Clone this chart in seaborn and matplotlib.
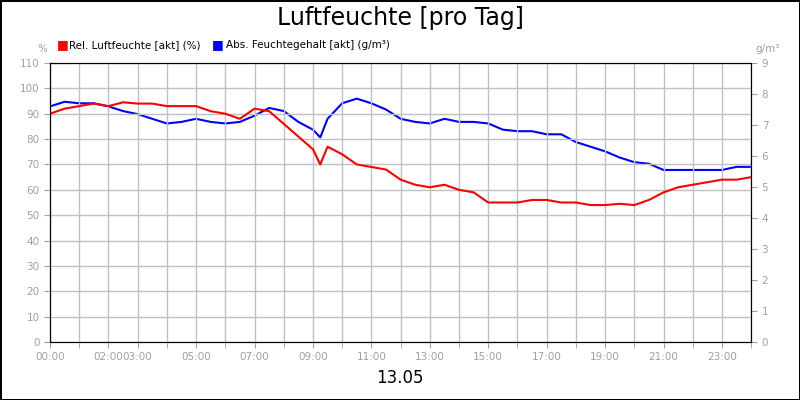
import matplotlib
matplotlib.use("Agg")
import matplotlib.pyplot as plt
import seaborn as sns
import pandas as pd

# hours of day for each reading
hours = [0, 0.5, 1, 1.5, 2, 2.5, 3, 3.5, 4, 4.5, 5, 5.5, 6, 6.5, 7, 7.5, 8, 8.5, 9, 9.25,
         9.5, 10, 10.5, 11, 11.5, 12, 12.5, 13, 13.5, 14, 14.5, 15, 15.5, 16, 16.5, 17, 17.5,
         18, 18.5, 19, 19.5, 20, 20.5, 21, 21.5, 22, 22.5, 23, 23.5, 24]
rel_hum = [90, 92, 93, 94, 93, 94.5, 94, 94, 93, 93, 93, 91, 90, 88, 92, 91, 86, 81, 76, 70,
           77, 74, 70, 69, 68, 64, 62, 61, 62, 60, 59, 55, 55, 55, 56, 56, 55,
           55, 54, 54, 54.5, 54, 56, 59, 61, 62, 63, 64, 64, 65]
abs_hum = [7.6, 7.75, 7.7, 7.7, 7.6, 7.45, 7.35, 7.2, 7.05, 7.1, 7.2, 7.1, 7.05, 7.1, 7.3, 7.55,
           7.45, 7.1, 6.85, 6.6, 7.2, 7.7, 7.85, 7.7, 7.5, 7.2, 7.1, 7.05, 7.2, 7.1, 7.1, 7.05,
           6.85, 6.8, 6.8, 6.7, 6.7, 6.45, 6.3, 6.15, 5.95, 5.8, 5.75, 5.55, 5.55, 5.55, 5.55,
           5.55, 5.65, 5.65]
tick_hours = [0, 2, 3, 5, 7, 9, 11, 13, 15, 17, 19, 21, 23]
tick_labels = ["00:00", "02:00", "03:00", "05:00", "07:00", "09:00", "11:00",
               "13:00", "15:00", "17:00", "19:00", "21:00", "23:00"]

df = pd.DataFrame({"h": hours, "rel": rel_hum, "abs": abs_hum})

fig = plt.figure(figsize=(8, 4), dpi=100)
fig.patch.set_edgecolor("black")
fig.patch.set_linewidth(2)
ax = fig.add_axes([0.0625, 0.145, 0.8765, 0.6975])
ax2 = ax.twinx()

sns.lineplot(data=df, x="h", y="rel", ax=ax, color="#ff0000", linewidth=1.5)
sns.lineplot(data=df, x="h", y="abs", ax=ax2, color="#0000ff", linewidth=1.5)
ax.set_zorder(ax2.get_zorder() + 1)
ax.patch.set_visible(False)

ax.set_xlim(0, 24)
ax.set_ylim(0, 110)
ax2.set_ylim(0, 9)
ax.set_yticks(range(0, 111, 10))
ax2.set_yticks(range(0, 10))
ax.set_xticks(range(0, 25), minor=True)
ax.set_xticks(tick_hours)
ax.set_xticklabels(tick_labels)
ax.grid(True, which="both", axis="x", color="#c0c0c0", linewidth=1)
ax.grid(True, which="major", axis="y", color="#c0c0c0", linewidth=1)
ax.set_axisbelow(True)
for a in (ax, ax2):
    a.tick_params(colors="#a0a0a0", labelsize=7.5, length=4)
    a.tick_params(which="minor", colors="#a0a0a0", length=4)
    a.set_xlabel("")
    a.set_ylabel("")
    for s in a.spines.values():
        s.set_color("black")

fig.text(0.5, 0.955, "Luftfeuchte [pro Tag]", ha="center", va="center", fontsize=17)
fig.text(0.5, 0.055, "13.05", ha="center", va="center", fontsize=12)
fig.text(0.053, 0.878, "%", ha="center", va="center", fontsize=7.5, color="#a0a0a0")
fig.text(0.96, 0.878, "g/m³", ha="center", va="center", fontsize=7.5, color="#a0a0a0")
fig.text(0.071, 0.888, "■", color="#ff0000", fontsize=9, va="center")
fig.text(0.086, 0.888, "Rel. Luftfeuchte [akt] (%)", fontsize=7.5, va="center")
fig.text(0.265, 0.888, "■", color="#0000ff", fontsize=9, va="center")
fig.text(0.283, 0.888, "Abs. Feuchtegehalt [akt] (g/m³)", fontsize=7.5, va="center")

fig.savefig("out.png", dpi=100, edgecolor=fig.get_edgecolor())
